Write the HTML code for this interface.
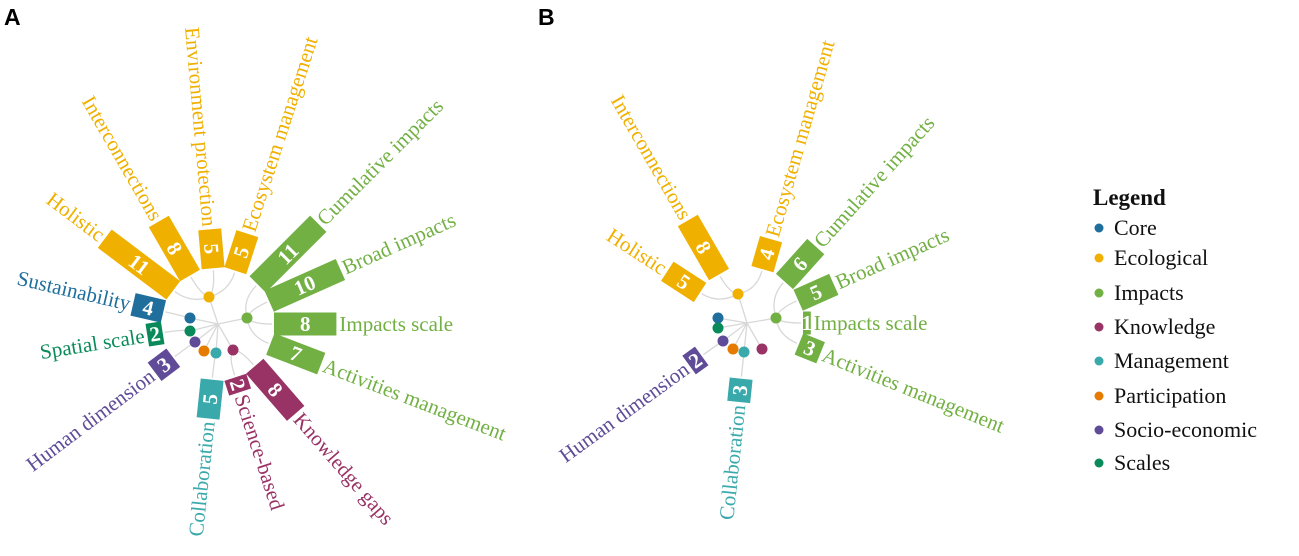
<!DOCTYPE html>
<html><head><meta charset="utf-8">
<style>
html,body{margin:0;padding:0;background:#fff;}
svg{display:block;font-family:"Liberation Serif",serif;}
</style></head>
<body>
<svg id="s" width="1299" height="556" viewBox="0 0 1299 556" xmlns="http://www.w3.org/2000/svg">
<text x="4" y="25" font-family="Liberation Sans,sans-serif" font-weight="bold" font-size="23">A</text>
<text x="538" y="25" font-family="Liberation Sans,sans-serif" font-weight="bold" font-size="23">B</text>
<g font-size="22" fill="#111">
<text x="1093" y="205" font-weight="bold" font-size="23">Legend</text>
<circle cx="1099" cy="228" r="4.5" fill="#1f6e9c"/><text x="1114" y="235">Core</text>
<circle cx="1099" cy="258" r="4.5" fill="#f0b000"/><text x="1114" y="265">Ecological</text>
<circle cx="1099" cy="293" r="4.5" fill="#72b043"/><text x="1114" y="300">Impacts</text>
<circle cx="1099" cy="327" r="4.5" fill="#993366"/><text x="1114" y="334">Knowledge</text>
<circle cx="1099" cy="361" r="4.5" fill="#3aa9ab"/><text x="1114" y="368">Management</text>
<circle cx="1099" cy="396" r="4.5" fill="#e57c00"/><text x="1114" y="403">Participation</text>
<circle cx="1099" cy="430" r="4.5" fill="#5f4b97"/><text x="1114" y="437">Socio-economic</text>
<circle cx="1099" cy="463" r="4.5" fill="#0a8a5a"/><text x="1114" y="470">Scales</text>
</g>
<g id="A"></g><g id="B"></g>
</svg>
<script>
var C={core:"#1f6e9c",eco:"#f0b000",imp:"#72b043",kn:"#993366",man:"#3aa9ab",par:"#e57c00",soc:"#5f4b97",sc:"#0a8a5a"};
var NS="http://www.w3.org/2000/svg";
function el(p,t,a,txt){var e=document.createElementNS(NS,t);for(var k in a)e.setAttribute(k,a[k]);if(txt!==undefined)e.textContent=txt;p.appendChild(e);return e;}
function panel(id,cx,cy,dots,bars){
 var g=document.getElementById(id);var R0=56,U=7.8,W=23;
 var gl=el(g,"g",{stroke:"#d8d8d8","stroke-width":"1.3",fill:"none"});
 for(var k in dots){var d=dots[k];el(gl,"path",{d:"M"+cx+","+cy+" L"+(cx+d[0])+","+(cy+d[1])});}
 bars.forEach(function(b){
  var a=b[1]*Math.PI/180,d=dots[b[3]];
  var x0=cx+d[0],y0=cy+d[1];
  var ex=cx+(R0-2)*Math.cos(a),ey=cy-(R0-2)*Math.sin(a);
  var mx=cx+(R0-22)*Math.cos(a),my=cy-(R0-22)*Math.sin(a);
  el(gl,"path",{d:"M"+x0+","+y0+" Q"+mx+","+my+" "+ex+","+ey});
 });
 bars.forEach(function(b){
  var ang=b[1],n=b[2],col=C[b[3]],L=n*U;
  var gg=el(g,"g",{transform:"translate("+cx+","+cy+") rotate("+(-ang)+")"});
  el(gg,"rect",{x:R0,y:-W/2,width:L,height:W,fill:col});
  var flip=Math.cos(ang*Math.PI/180)<0;
  var nc=R0+L/2;
  var tn=el(gg,"text",{x:nc,y:0,"text-anchor":"middle","dominant-baseline":"central",fill:"#fff","font-weight":"bold","font-size":"21",transform:flip?"rotate(180 "+nc+" 0)":""},String(n));
  var lx=R0+L+3;
  if(flip){el(gg,"text",{x:-lx,y:0,"text-anchor":"end","dominant-baseline":"central",fill:col,"font-size":"21",transform:"rotate(180)"},b[0]);}
  else el(gg,"text",{x:lx,y:0,"dominant-baseline":"central",fill:col,"font-size":"21"},b[0]);
 });
 for(var k in dots){var d=dots[k];el(g,"circle",{cx:cx+d[0],cy:cy+d[1],r:5.5,fill:C[k]});}
}
panel("A",218,324,{core:[-28,-6],sc:[-28,7],soc:[-23,18],par:[-14,27],man:[-2,29],kn:[15,26],eco:[-9,-27],imp:[29,-6]},[
["Impacts scale",0,8,"imp"],["Broad impacts",24,10,"imp"],["Cumulative impacts",45,11,"imp"],
["Ecosystem management",72,5,"eco"],["Environment protection",95,5,"eco"],["Interconnections",120,8,"eco"],
["Holistic",143,11,"eco"],["Sustainability",167,4,"core"],["Spatial scale",189,2,"sc"],
["Human dimension",217,3,"soc"],["Collaboration",264,5,"man"],["Science-based",288,2,"kn"],
["Knowledge gaps",311,8,"kn"],["Activities management",339,7,"imp"]]);
panel("B",747,323,{core:[-29,-5],sc:[-29,5],soc:[-24,18],par:[-14,26],man:[-3,29],kn:[15,26],eco:[-9,-29],imp:[29,-5]},[
["Impacts scale",0,1,"imp"],["Broad impacts",24,5,"imp"],["Cumulative impacts",48,6,"imp"],
["Ecosystem management",74,4,"eco"],["Interconnections",120,8,"eco"],["Holistic",147,5,"eco"],
["Human dimension",216,2,"soc"],["Collaboration",264,3,"man"],["Activities management",338,3,"imp"]]);
</script>
</body></html>
